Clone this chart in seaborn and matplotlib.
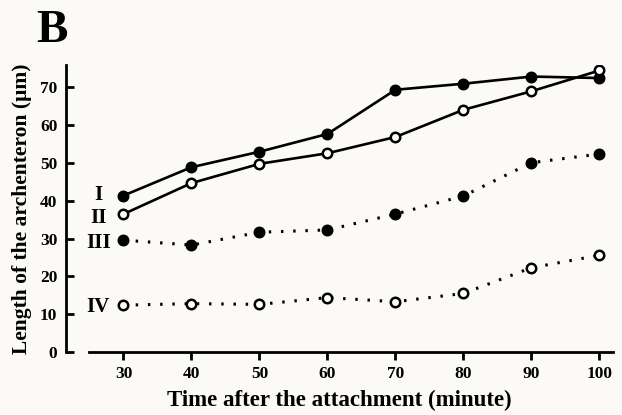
import matplotlib
matplotlib.use("Agg")
import matplotlib.pyplot as plt
import seaborn as sns
import pandas as pd

time_min = [30, 40, 50, 60, 70, 80, 90, 100]
series_I = [41.4, 48.9, 53.0, 57.7, 69.4, 71.0, 72.9, 72.5]
series_II = [36.5, 44.7, 49.8, 52.6, 56.9, 64.1, 69.0, 74.5]
series_III = [29.6, 28.3, 31.7, 32.3, 36.5, 41.3, 50.1, 52.4]
series_IV = [12.4, 12.8, 12.6, 14.4, 13.3, 15.5, 22.3, 25.6]
series_names = ["I", "II", "III", "IV"]
x_ticks = [30, 40, 50, 60, 70, 80, 90, 100]
y_ticks = [0, 10, 20, 30, 40, 50, 60, 70]

sns.set_theme(style="ticks")
plt.rcParams['font.family'] = ['Liberation Serif', 'DejaVu Serif']
plt.rcParams['text.color'] = 'black'
plt.rcParams['axes.labelcolor'] = 'black'
plt.rcParams['xtick.color'] = 'black'
plt.rcParams['ytick.color'] = 'black'
bg = '#fcfaf7'

fig = plt.figure(figsize=(6.22, 4.15), dpi=100, facecolor=bg)
ax = fig.add_axes([0.1056, 0.1518, 0.88, 0.692])
ax.set_facecolor(bg)

all_series = [series_I, series_II, series_III, series_IV]
styles = [
    dict(ls='-', face='black'),
    dict(ls='-', face='white'),
    dict(ls=(0, (0.8, 3.2)), face='black'),
    dict(ls=(0, (0.8, 3.2)), face='white'),
]
for name, vals, st in zip(series_names, all_series, styles):
    df = pd.DataFrame({"t": time_min, "v": vals})
    sns.lineplot(data=df, x="t", y="v", ax=ax, color='black',
                 linewidth=1.9 if st['ls'] == '-' else 2.2,
                 linestyle=st['ls'], marker='o', markersize=6.8,
                 markerfacecolor=st['face'], markeredgecolor='black',
                 markeredgewidth=1.8, zorder=3)

label_y = [41.5, 35.5, 28.9, 11.9]
for name, yv in zip(series_names, label_y):
    ax.text(26.3, yv, name, ha='center', va='center', fontsize=15,
            fontweight='bold', color='black')

ax.set_xlim(21.5, 102)
ax.set_ylim(0, 76)
ax.set_xticks(x_ticks)
ax.set_yticks(y_ticks)
ax.spines['top'].set_visible(False)
ax.spines['right'].set_visible(False)
ax.spines['bottom'].set_bounds(24.9, 102)
ax.spines['left'].set_linewidth(2)
ax.spines['bottom'].set_linewidth(2)
ax.spines['left'].set_color('black')
ax.spines['bottom'].set_color('black')
ax.tick_params(axis='x', direction='out', length=6, width=2, labelsize=12.5, pad=4,
               colors='black', labelcolor='black')
ax.tick_params(axis='y', direction='in', length=6, width=2, labelsize=12.5, pad=6,
               colors='black', labelcolor='black')
for lab in ax.get_xticklabels() + ax.get_yticklabels():
    lab.set_fontweight('bold')

ax.set_xlabel("Time after the attachment (minute)", fontsize=16.5, fontweight='bold',
              labelpad=6, color='black')
ax.set_ylabel("Length of the archenteron (\u03bcm)", fontsize=15.5, fontweight='bold',
              labelpad=6, color='black')

fig.text(0.058, 0.899, "B", fontsize=34, fontweight='bold', ha='left', va='baseline',
         color='black')

fig.savefig("out.png", dpi=100, facecolor=bg)
